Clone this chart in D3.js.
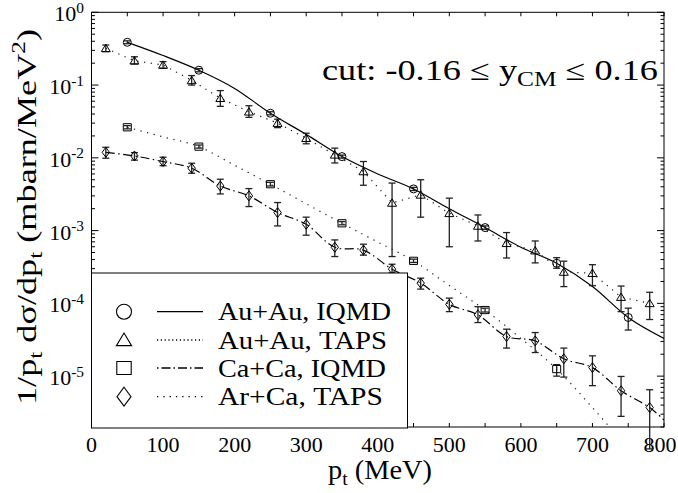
<!DOCTYPE html>
<html><head><meta charset="utf-8">
<script src="https://cdn.jsdelivr.net/npm/d3@7"></script>
<style>body{margin:0;background:#fff}</style>
</head><body>
<svg id="c" width="678" height="493"></svg>
<script>
// ---------- data ----------
const xTickVals = [0,100,200,300,400,500,600,700,800];
const yTickExps = [0,-1,-2,-3,-4,-5];

// Au+Au IQMD (circles + solid curve)
const auIqmdP  = [50,150,250,350,450,550,650,750];
const auIqmdV  = [0.387,0.16,0.041,0.0104,0.00374,0.0011,3.56e-4,6.4e-5];
const auIqmdLo = [0.37,0.152,0.039,0.0099,0.00355,0.00104,3.04e-4,4.3e-5];
const auIqmdHi = [0.405,0.168,0.043,0.0109,0.00393,0.00116,4.25e-4,8.6e-5];
const auIqmdCurveP = [50,100,150,200,250,300,350,400,450,500,550,600,650,700,750,800];
const auIqmdCurveV = [0.387,0.255,0.16,0.09,0.041,0.021,0.0104,0.006,0.00374,0.002,0.0011,5.9e-4,3.56e-4,1.7e-4,6.4e-5,3.3e-5];

// Au+Au TAPS (triangles)
const tapsP = [20,60,100,140,180,220,260,300,340,380,420,460,500,540,580,620,660,700,740,780];
const auTapsV  = [0.32,0.216,0.189,0.116,0.066,0.043,0.030,0.0186,0.011,0.0065,0.0024,0.0031,0.00173,0.00116,6.7e-4,5.3e-4,2.7e-4,2.6e-4,1.22e-4,1.0e-4];
const auTapsLo = [0.288,0.195,0.17,0.10,0.051,0.036,0.026,0.0156,0.0085,0.0042,4.4e-4,0.00153,6.0e-4,7.2e-4,4.2e-4,3.6e-4,1.7e-4,1.75e-4,7.7e-5,6.0e-5];
const auTapsHi = [0.355,0.245,0.21,0.135,0.084,0.052,0.034,0.0218,0.0136,0.0089,0.0045,0.005,0.00279,0.00164,9.4e-4,7.2e-4,3.8e-4,3.4e-4,1.73e-4,1.42e-4];

// Ca+Ca IQMD (squares + dotted curve)
const caIqmdP  = [50,150,250,350,450,550,650];
const caIqmdV  = [0.0263,0.01426,0.00434,0.00126,3.84e-4,8.1e-5,1.25e-5];
const caIqmdLo = [0.025,0.0136,0.0041,0.0012,3.65e-4,7.6e-5,1.0e-5];
const caIqmdHi = [0.0277,0.015,0.0046,0.00133,4.05e-4,8.6e-5,1.44e-5];
const caIqmdCurveP = [50,100,150,200,250,300,350,400,450,500,550,600,650,700,750];
const caIqmdCurveV = [0.0263,0.0194,0.01426,0.0079,0.00434,0.00234,0.00126,6.96e-4,3.84e-4,1.76e-4,8.1e-5,3.3e-5,1.25e-5,3.7e-6,1.0e-6];

// Ar+Ca TAPS (diamonds + dash-dot line)
const arCaV  = [0.0119,0.0106,0.00887,0.0072,0.0041,0.0030,0.00177,0.00122,5.9e-4,5.4e-4,2.95e-4,1.9e-4,9.7e-5,6.95e-5,3.5e-5,3.05e-5,1.73e-5,1.31e-5,6.3e-6,3.7e-6];
const arCaLo = [0.00988,0.0093,0.0078,0.00614,0.00319,0.00214,0.00116,8.65e-4,4.4e-4,4.6e-4,2.62e-4,1.57e-4,7.7e-5,5.45e-5,2.43e-5,2.11e-5,9.7e-6,7.4e-6,2.8e-6,1.0e-6];
const arCaHi = [0.01397,0.0118,0.0102,0.00843,0.00508,0.00378,0.00243,0.00153,7.45e-4,6.5e-4,3.45e-4,2.22e-4,1.18e-4,9.0e-5,4.42e-5,3.97e-5,2.43e-5,1.9e-5,9.9e-6,6.5e-6];
const arCaTailP = [800];
const arCaTailV = [2.5e-6];

const legendLabels = ["Au+Au, IQMD","Au+Au, TAPS","Ca+Ca, IQMD","Ar+Ca, TAPS"];

// ---------- setup ----------
const svg = d3.select("#c");
const FONT = "Liberation Serif";
const L = 91.5, R = 664, T = 12.3, B = 427;
const x = d3.scaleLinear().domain([0,800]).range([L,R]);
const y = d3.scaleLog().domain([2e-6,1]).range([B,T]);

svg.append("defs").append("clipPath").attr("id","clip")
  .append("rect").attr("x",L).attr("y",T).attr("width",R-L).attr("height",B-T);

function rich(parent, parts, size){
  const t = parent.append("text").attr("font-size", size).attr("font-family", FONT).attr("fill","#000");
  let cur = 0;
  parts.forEach(p => {
    const s = typeof p === "string" ? p : p[0];
    const mode = typeof p === "string" ? 0 : p[1];
    const off = mode===1 ? size*0.22 : mode===2 ? -size*0.38 : 0;
    t.append("tspan").text(s.replace(/ /g,"\u00A0")).attr("font-size", mode ? size*0.7 : size).attr("dy", off-cur);
    cur = off;
  });
  return t;
}
// fit text to a target width with a horizontal scale
function place(parent, px, py, parts, size, anchor, width, rot){
  const g = parent.append("g");
  const inner = g.append("g");
  const t = rich(inner, parts, size).attr("text-anchor", anchor||"start");
  let sx = 1;
  if (width){ sx = width / t.node().getBBox().width; }
  inner.attr("transform", `scale(${sx.toFixed(3)},1)`);
  g.attr("transform", `translate(${px},${py})` + (rot ? ` rotate(${rot})` : ""));
  return g;
}

// ---------- frame & ticks ----------
const ax = svg.append("g").attr("stroke","#000").attr("stroke-width",1);
ax.append("rect").attr("x",L).attr("y",T).attr("width",R-L).attr("height",B-T).attr("fill","none");
for (let v=0; v<=800; v+=50){
  const len = 4;
  ax.append("line").attr("x1",x(v)).attr("x2",x(v)).attr("y1",B).attr("y2",B-len);
  ax.append("line").attr("x1",x(v)).attr("x2",x(v)).attr("y1",T).attr("y2",T+len);
}
for (let e=-6; e<=0; e++){
  for (let m=1; m<=9; m++){
    const v = m*Math.pow(10,e);
    if (v < 2e-6 || v > 1) continue;
    const len = m===1 ? 7 : 3.5;
    ax.append("line").attr("x1",L).attr("x2",L+len).attr("y1",y(v)).attr("y2",y(v));
    ax.append("line").attr("x1",R).attr("x2",R-len).attr("y1",y(v)).attr("y2",y(v));
  }
}

// tick labels
xTickVals.forEach(v => place(svg, Math.min(x(v), 660), 452, [String(v)], 22, "middle"));
yTickExps.forEach(e => place(svg, 84, y(Math.pow(10,e))+9, ["10",[String(e),2]], 22, "end"));

// axis titles
place(svg, 380, 479, ["p",["t",1]," (MeV)"], 27, "middle", 104);
place(svg, 36, 217, ["1/p",["t",1]," d\u03C3/dp",["t",1]," (mbarn/MeV",["2",2],")"], 28, "middle", 376, -90);

// cut text
place(svg, 322, 80, ["cut: -0.16 \u2264 y",["CM",1]," \u2264 0.16"], 29, "start", 336);

// ---------- series ----------
const plot = svg.append("g").attr("clip-path","url(#clip)");
const lineGen = (curve) => d3.line().x(d=>x(d[0])).y(d=>y(d[1])).curve(curve);
const zip = (a,b) => a.map((v,i)=>[v,b[i]]);

plot.append("path").attr("d", lineGen(d3.curveMonotoneX)(zip(auIqmdCurveP,auIqmdCurveV)))
  .attr("fill","none").attr("stroke","#000").attr("stroke-width",1.2);
plot.append("path").attr("d", lineGen(d3.curveLinear)(zip(tapsP,auTapsV)))
  .attr("fill","none").attr("stroke","#222").attr("stroke-width",1.2).attr("stroke-dasharray","1.3,5.5");
plot.append("path").attr("d", lineGen(d3.curveMonotoneX)(zip(caIqmdCurveP,caIqmdCurveV)))
  .attr("fill","none").attr("stroke","#222").attr("stroke-width",1.2).attr("stroke-dasharray","1.3,5.5");
plot.append("path").attr("d", lineGen(d3.curveCatmullRom.alpha(0.5))(zip(tapsP.concat(arCaTailP),arCaV.concat(arCaTailV))))
  .attr("fill","none").attr("stroke","#000").attr("stroke-width",1.2).attr("stroke-dasharray","9,3.5,1.5,3.5");

function errbars(P, Lo, Hi){
  const g = svg.append("g").attr("stroke","#222").attr("stroke-width",1.3);
  P.forEach((p,i)=>{
    const cx = x(p), y1 = y(Lo[i]), y2 = y(Hi[i]);
    g.append("line").attr("x1",cx).attr("x2",cx).attr("y1",y1).attr("y2",y2);
    g.append("line").attr("x1",cx-3.5).attr("x2",cx+3.5).attr("y1",y1).attr("y2",y1);
    g.append("line").attr("x1",cx-3.5).attr("x2",cx+3.5).attr("y1",y2).attr("y2",y2);
  });
}
errbars(auIqmdP, auIqmdLo, auIqmdHi);
errbars(tapsP, auTapsLo, auTapsHi);
errbars(caIqmdP, caIqmdLo, caIqmdHi);
errbars(tapsP, arCaLo, arCaHi);

const shapes = {
  circle: (s)=>{ const r=s; return `M${-r},0a${r},${r} 0 1,0 ${2*r},0a${r},${r} 0 1,0 ${-2*r},0Z`; },
  triangle: (s)=>`M0,${-s*1.05}L${s*1.15},${s*0.85}L${-s*1.15},${s*0.85}Z`,
  square: (s)=>`M${-s},${-s*0.9}H${s}V${s*0.9}H${-s}Z`,
  diamond: (s)=>`M0,${-s*1.35}L${s},0L0,${s*1.35}L${-s},0Z`
};
function markers(P, V, shape, size){
  const g = svg.append("g").attr("fill","none").attr("stroke","#000").attr("stroke-width",1);
  P.forEach((p,i)=> g.append("path").attr("d", shapes[shape](size))
    .attr("transform",`translate(${x(p)},${y(V[i])})`));
}
markers(auIqmdP, auIqmdV, "circle", 4);
markers(tapsP, auTapsV, "triangle", 3.9);
markers(caIqmdP, caIqmdV, "square", 4);
markers(tapsP, arCaV, "diamond", 3.7);

// ---------- legend ----------
const lg = svg.append("g");
lg.append("rect").attr("x",L).attr("y",273).attr("width",316).attr("height",B+1-273)
  .attr("fill","#fff").attr("stroke","#000").attr("stroke-width",1);
const rowsY = [311.7,340,368,396.7];
const legShapes = ["circle","triangle","square","diamond"];
const legSizes = [7.5,6.6,7.2,7.0];
const legDash = [null,"1.2,2.6","1.5,3,9,3","1.3,5"];
rowsY.forEach((ry,i)=>{
  lg.append("path").attr("d", shapes[legShapes[i]](legSizes[i]))
    .attr("transform",`translate(124,${ry})`).attr("fill","none").attr("stroke","#000").attr("stroke-width",1.1);
  const ln = lg.append("line").attr("x1",157).attr("x2",203).attr("y1",ry).attr("y2",ry)
    .attr("stroke","#000").attr("stroke-width",1.3);
  if (legDash[i]) ln.attr("stroke-dasharray",legDash[i]);
  place(lg, 218, ry+8.5, [legendLabels[i]], 26, "start", [173,169,168,165][i]);
});
</script>
</body></html>
